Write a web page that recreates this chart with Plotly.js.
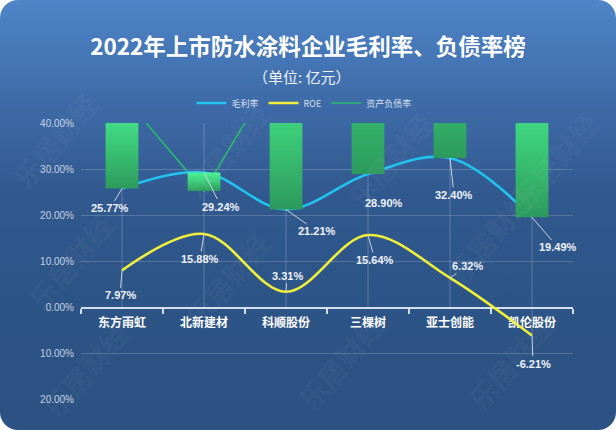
<!DOCTYPE html>
<html><head><meta charset="utf-8">
<script src="https://cdn.plot.ly/plotly-3.0.1.min.js"></script>
<style>
html,body{margin:0;padding:0;background:#ffffff;}
#wrap{width:616px;height:430px;border-radius:18px;overflow:hidden;
background:linear-gradient(to bottom,#4f85c8 0%,#3f6daa 22%,#32598f 45%,#2d5486 70%,#2b5282 100%);}
#chart{width:616px;height:430px;}
</style></head><body><div id="wrap"><div id="chart"></div></div>
<script>
// ---- data ----
const categories = ['东方雨虹','北新建材','科顺股份','三棵树','亚士创能','凯伦股份'];
const grossMargin = [25.77, 29.24, 21.21, 28.90, 32.40, 19.49];
const roe = [7.97, 15.88, 3.31, 15.64, 6.32, -6.21];
const debtRatio = [46.2, 25.2, 55.0, 74.6, 71.0, 52.0];
const yTickVals = [-20, -10, 0, 10, 20, 30, 40];
const yTickText = ['20.00%', '10.00%', '0.00%', '10.00%', '20.00%', '30.00%', '40.00%'];
const Y_MIN = -20, Y_MAX = 40;

// ---- label placement (pixel offsets of label from its point) ----
const gmOffsets = [[-12,20],[17,34],[31,22],[16,29],[4,37],[26,30]];
const roeOffsets = [[-2,25],[-4,25],[1,-16],[7,25],[17,-12],[1,28]];

const idx = categories.map((_, i) => i);
const fmt = v => v.toFixed(2) + '%';
const BAR_HALF = 0.2;

const traces = [];
// vertical guide lines at category centres
const gx = [], gy = [];
idx.forEach(i => { gx.push(i, i, null); gy.push(Y_MAX, Math.min(0, roe[i]), null); });
traces.push({x: gx, y: gy, mode: 'lines', line: {color: 'rgba(255,255,255,0.22)', width: 1},
  hoverinfo: 'skip', showlegend: false});

traces.push({x: idx, y: debtRatio, name: '资产负债率', mode: 'lines',
  line: {color: '#2bb86f', width: 1.6}, legendrank: 3});
traces.push({x: idx, y: grossMargin, name: '毛利率', mode: 'lines',
  line: {color: '#22c3ef', width: 2.6, shape: 'spline', smoothing: 1}, legendrank: 1});
traces.push({x: idx, y: roe, name: 'ROE', mode: 'lines',
  line: {color: '#f0f03a', width: 2.6, shape: 'spline', smoothing: 1}, legendrank: 2});

// floating bars between gross margin and debt ratio
idx.forEach(i => {
  const lo = Math.min(grossMargin[i], debtRatio[i]);
  const hi = Math.max(grossMargin[i], debtRatio[i]);
  traces.push({
    x: [i - BAR_HALF, i + BAR_HALF, i + BAR_HALF, i - BAR_HALF, i - BAR_HALF],
    y: [lo, lo, hi, hi, lo],
    mode: 'lines', fill: 'toself', line: {width: 0, color: 'rgba(0,0,0,0)'},
    fillgradient: {type: 'vertical', colorscale: [[0, '#2d9a5d'], [0.5, '#3ccb78'], [1, '#4cf39a']]},
    hoverinfo: 'skip', showlegend: false
  });
});

const labelFont = {family: 'Liberation Sans, Arial, sans-serif', size: 11, color: '#eef3fa', weight: 'bold'};
const annotations = [];
idx.forEach(i => {
  annotations.push({x: i, y: grossMargin[i], xref: 'x', yref: 'y', text: fmt(grossMargin[i]),
    showarrow: true, arrowhead: 0, arrowwidth: 1, arrowcolor: '#c9d2e0', standoff: 0,
    ax: gmOffsets[i][0], ay: gmOffsets[i][1], font: labelFont});
  annotations.push({x: i, y: roe[i], xref: 'x', yref: 'y', text: fmt(roe[i]),
    showarrow: true, arrowhead: 0, arrowwidth: 1, arrowcolor: '#c9d2e0', standoff: 0,
    ax: roeOffsets[i][0], ay: roeOffsets[i][1], font: labelFont});
});

// layout geometry
const W = 616, H = 430, M = {l: 81, r: 43, t: 123, b: 31};
const px = x => (x - M.l) / (W - M.l - M.r);
const py = y => (H - M.b - y) / (H - M.t - M.b);

annotations.push({xref: 'paper', yref: 'paper', x: px(302), y: py(77), xanchor: 'center', yanchor: 'middle',
  text: '（单位: 亿元）', showarrow: false,
  font: {family: 'Noto Sans CJK SC, sans-serif', size: 15, color: '#f2f5fa'}});

// watermark
const wm = [[55,140],[226,150],[390,160],[555,160],[70,262],[227,280],[490,235],[85,370],[340,362],[510,362]];
wm.forEach(p => annotations.push({xref: 'paper', yref: 'paper', x: px(p[0]), y: py(p[1]),
  xanchor: 'center', yanchor: 'middle', text: '乐居财经', showarrow: false, textangle: -50,
  font: {family: 'Noto Sans CJK SC, sans-serif', size: 28, color: 'rgba(255,255,255,0.05)', weight: 'bold'}}));

const boundaries = categories.map((_, i) => i - 0.5).concat(categories.length - 0.5);

const layout = {
  width: W, height: H, margin: M,
  paper_bgcolor: 'rgba(0,0,0,0)', plot_bgcolor: 'rgba(0,0,0,0)',
  font: {family: 'Noto Sans CJK SC, Liberation Sans, sans-serif', color: '#ffffff'},
  title: {text: '2022年上市防水涂料企业毛利率、负债率榜', x: 0.5, xanchor: 'center',
    y: 1 - 47 / H, yanchor: 'middle', yref: 'container',
    font: {family: 'Noto Sans CJK SC, sans-serif', size: 22.5, color: '#ffffff', weight: 'bold'}},
  showlegend: true,
  legend: {orientation: 'h', x: px(304), xanchor: 'center', y: py(103), yanchor: 'middle',
    font: {family: 'Noto Sans CJK SC, sans-serif', size: 9, color: '#d6dfec'},
    itemwidth: 30, traceorder: 'normal', bgcolor: 'rgba(0,0,0,0)'},
  xaxis: {range: [-0.5, categories.length - 0.5], anchor: 'free', position: (0 - Y_MIN) / (Y_MAX - Y_MIN),
    tickmode: 'array', tickvals: idx, ticktext: categories, ticks: '', showgrid: false, zeroline: false,
    showline: true, linecolor: '#d5e0ee', linewidth: 1.5, layer: 'below traces',
    tickfont: {family: 'Noto Sans CJK SC, sans-serif', size: 12, color: '#ffffff', weight: 'bold'},
    ticklabelstandoff: 4,
    minor: {tickmode: 'array', tickvals: boundaries, ticks: 'outside', ticklen: 5, tickwidth: 1.5,
      tickcolor: '#d5e0ee', showgrid: false}},
  yaxis: {range: [Y_MIN, Y_MAX], domain: [0, 1], tickmode: 'array', tickvals: yTickVals, ticktext: yTickText,
    showgrid: true, gridcolor: 'rgba(255,255,255,0.18)', gridwidth: 1, zeroline: false, showline: false,
    ticks: '', ticklabelstandoff: 6,
    tickfont: {family: 'Liberation Sans, Arial, sans-serif', size: 10, color: '#c6d2e4'}},
  annotations: annotations
};

Plotly.newPlot('chart', traces, layout, {staticPlot: true, displayModeBar: false});
</script></body></html>
